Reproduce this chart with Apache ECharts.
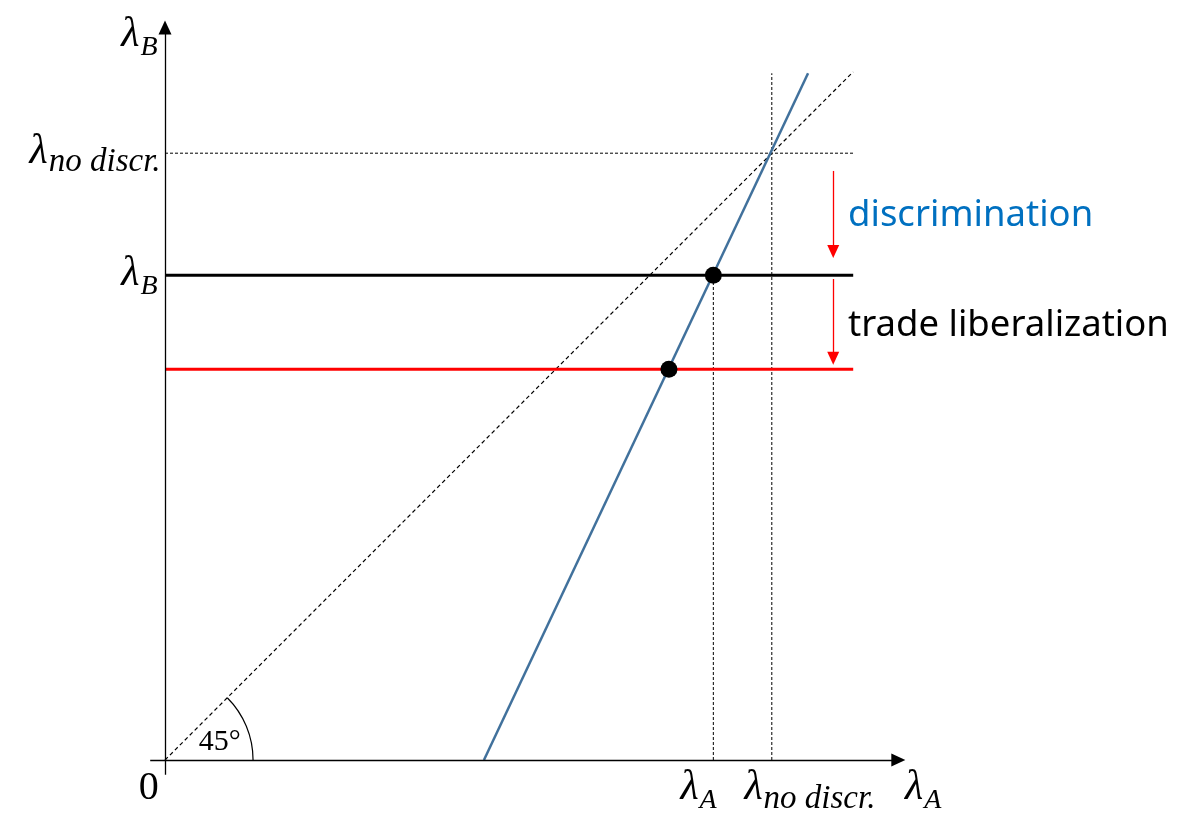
<!DOCTYPE html>
<html>
<head>
<meta charset="utf-8">
<script src="https://cdn.jsdelivr.net/npm/echarts@6/dist/echarts.min.js"></script>
<style>html,body{margin:0;padding:0;background:#fff}#c{width:1178px;height:813px}</style>
</head>
<body>
<div id="c"></div>
<script>
// ---- data (abstract diagram units, origin at 0,0) ----
const xRange = [-3, 100];
const yRange = [-3, 100];
const noDiscr = 82;            // λ no discr. (both axes)
const lambdaB = 65.5;          // λ_B before trade liberalization
const lambdaBLib = 52.8;       // λ_B after trade liberalization
const lambdaA = 74.1;          // λ_A at equilibrium
const diagonal = [[0, 0], [93, 93]];
const blueLine = [[43.1, 0], [86.9, 92.8]];
const equilibria = [[74.1, 65.5], [68.1, 52.8]];
const hLineEnd = 93;
const arrowX = 90.3;
const discrArrow = [79.6, 68.7];
const libArrow = [65.0, 54.3];
const axisEnd = [99.1, 99.0];
const arcRadius = 11.9;
const arcAngle = 45;
const axisLabels = {
  yTop: '{l|λ}{s|B}',
  yNoDiscr: '{l|λ}{t|no discr.}',
  yB: '{l|λ}{s|B}',
  zero: '0',
  xA: '{l|λ}{s|A}',
  xNoDiscr: '{l|λ}{t|no discr.}',
  xEnd: '{l|λ}{s|A}',
  angle: '45°'
};
const annotations = ['discrimination', 'trade liberalization'];

// ---- styles ----
const mathRich = {
  l: { fontFamily: 'Liberation Serif', fontStyle: 'italic', fontSize: 42, lineHeight: 44, color: '#000', verticalAlign: 'top' },
  s: { fontFamily: 'Liberation Serif', fontStyle: 'italic', fontSize: 28, lineHeight: 28, color: '#000', padding: [19, 0, 0, 1], verticalAlign: 'top' },
  t: { fontFamily: 'Liberation Serif', fontStyle: 'italic', fontSize: 33, lineHeight: 33, color: '#000', padding: [15, 0, 0, 1], verticalAlign: 'top' }
};

function seg(points, color, width, type) {
  return {
    type: 'line', data: points, showSymbol: false, symbol: 'none', silent: true,
    lineStyle: { color: color, width: width, type: type || 'solid', opacity: 1 }, z: 2, clip: false
  };
}
function lab(coord, text, opts) {
  return {
    value: coord,
    label: Object.assign({ show: true, formatter: text, position: [0, 0], rich: mathRich, color: '#000', opacity: 1 }, opts)
  };
}

const chart = echarts.init(document.getElementById('c'), null, { renderer: 'canvas' });
const option = {
  animation: false,
  backgroundColor: '#fff',
  grid: { left: 142.8, top: 20, width: 762.2, height: 762.2 },
  xAxis: { type: 'value', min: xRange[0], max: xRange[1], show: false },
  yAxis: { type: 'value', min: yRange[0], max: yRange[1], show: false },
  series: [
    // reference dotted lines
    seg([[0, noDiscr], [hLineEnd, noDiscr]], '#000', 1, [3, 2]),
    seg([[noDiscr, 0], [noDiscr, blueLine[1][1]]], '#000', 1, [3, 2]),
    seg([[lambdaA, 0], [lambdaA, lambdaB]], '#000', 1, [3, 2]),
    seg(diagonal, '#000', 1.2, [4, 3]),
    // horizontal λ_B lines
    seg([[0, lambdaB], [hLineEnd, lambdaB]], '#000', 3),
    seg([[0, lambdaBLib], [hLineEnd, lambdaBLib]], '#ff0000', 3),
    // blue curve
    seg(blueLine, '#41719C', 2.5),
    // axes + arrows
    {
      type: 'line', data: [], silent: true,
      markLine: {
        silent: true, animation: false,
        label: { show: false },
        emphasis: { disabled: true },
        data: [
          [{ coord: [-2, 0], symbol: 'none' }, { coord: [axisEnd[0], 0], symbol: 'triangle', symbolSize: [13, 14] }],
          [{ coord: [0, -2], symbol: 'none' }, { coord: [0, axisEnd[1]], symbol: 'triangle', symbolSize: [13, 14] }],
          [{ coord: [arrowX, discrArrow[0]], symbol: 'none', lineStyle: { color: '#ff0000', width: 1.3, type: 'solid' }, itemStyle: { color: '#ff0000' } },
           { coord: [arrowX, discrArrow[1]], symbol: 'triangle', symbolSize: [12, 13], itemStyle: { color: '#ff0000' } }],
          [{ coord: [arrowX, libArrow[0]], symbol: 'none', lineStyle: { color: '#ff0000', width: 1.3, type: 'solid' }, itemStyle: { color: '#ff0000' } },
           { coord: [arrowX, libArrow[1]], symbol: 'triangle', symbolSize: [12, 13], itemStyle: { color: '#ff0000' } }]
        ],
        lineStyle: { color: '#000', width: 1.3, type: 'solid', opacity: 1 },
        itemStyle: { color: '#000', opacity: 1 }
      }
    },
    // 45° arc
    {
      type: 'custom', silent: true, data: [[0, 0]],
      renderItem: function (params, api) {
        const c = api.coord([0, 0]);
        const e = api.coord([arcRadius, 0]);
        return {
          type: 'arc',
          shape: { cx: c[0], cy: c[1], r: e[0] - c[0], startAngle: -arcAngle * Math.PI / 180, endAngle: 0, clockwise: true },
          style: { stroke: '#000', fill: null, lineWidth: 1.2 }
        };
      }
    },
    // equilibrium points
    {
      type: 'scatter', data: equilibria, symbol: 'circle', symbolSize: 17,
      itemStyle: { color: '#000', opacity: 1 }, z: 5, silent: true
    },
    // text labels
    {
      type: 'scatter', symbolSize: 0, silent: true, clip: false, z: 6,
      itemStyle: { opacity: 1 },
      data: [
        lab([-1, 97.8], axisLabels.yTop, { align: 'right', verticalAlign: 'middle' }),
        lab([-0.6, noDiscr], axisLabels.yNoDiscr, { align: 'right', verticalAlign: 'middle' }),
        lab([-1, lambdaB], axisLabels.yB, { align: 'right', verticalAlign: 'middle' }),
        lab([-2.2, -3.8], axisLabels.zero, { align: 'center', verticalAlign: 'middle', fontFamily: 'Liberation Serif', fontSize: 40 }),
        lab([7.4, 2.4], axisLabels.angle, { align: 'center', verticalAlign: 'middle', fontFamily: 'Liberation Serif', fontSize: 30 }),
        lab([lambdaA - 2.0, -1.0], axisLabels.xA, { align: 'center', verticalAlign: 'top' }),
        lab([78.3, -1.0], axisLabels.xNoDiscr, { align: 'left', verticalAlign: 'top' }),
        lab([100, -1.0], axisLabels.xEnd, { align: 'left', verticalAlign: 'top' }),
        lab([92.3, 73.6], annotations[0], { align: 'left', verticalAlign: 'middle', fontFamily: 'Noto Sans', fontSize: 36.5, color: '#0070C0' }),
        lab([92.3, 58.7], annotations[1], { align: 'left', verticalAlign: 'middle', fontFamily: 'Noto Sans', fontSize: 36.5, color: '#000' })
      ]
    }
  ]
};
chart.setOption(option);
</script>
</body>
</html>
